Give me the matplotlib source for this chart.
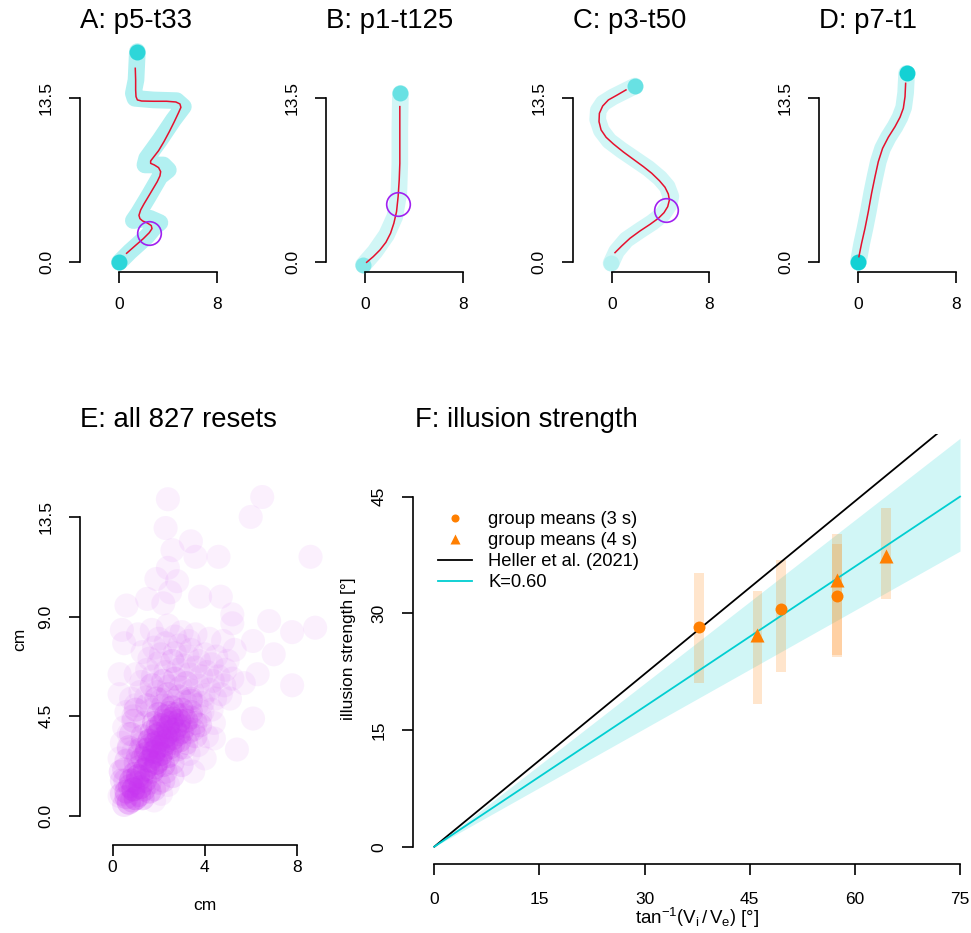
import matplotlib.pyplot as plt
from matplotlib.colors import to_rgba
from matplotlib.lines import Line2D

plt.rcParams['font.family'] = ['Liberation Sans', 'DejaVu Sans']
plt.rcParams['mathtext.fontset'] = 'custom'
plt.rcParams['mathtext.rm'] = 'Liberation Sans'
plt.rcParams['mathtext.it'] = 'Liberation Sans:italic'

# ---------------- data: single trials (cm) ----------------
titles = ['A: p5-t33', 'B: p1-t125', 'C: p3-t50', 'D: p7-t1']

a_raw_x = [0, 0.87, 2.24, 2.92, 3.33, 2.51, 1.15, 1.56, 2.38, 3.33, 4.02, 3.61,
           2.10, 2.24, 3.33, 4.43, 5.25, 4.70, 2.79, 1.28, 1.15, 1.37, 1.48]
a_raw_y = [0, 0.87, 2.10, 2.92, 3.25, 3.61, 3.42, 4.02, 5.38, 7.02, 7.57, 7.98,
           7.98, 8.52, 10.03, 11.67, 12.76, 13.25, 13.31, 13.44, 13.85, 14.95, 17.27]
a_fit_x = [0.60, 1.28, 1.97, 2.46, 2.68, 2.62, 2.30, 1.91, 1.69, 1.61, 1.75, 2.02,
           2.38, 2.79, 3.11, 3.33, 3.39, 3.22, 2.87, 2.57, 2.57, 2.84, 3.22, 3.66,
           4.10, 4.51, 4.86, 5.05, 4.97, 4.64, 3.88, 2.79, 1.83, 1.48, 1.37, 1.34,
           1.34, 1.31]
a_fit_y = [0.74, 1.34, 1.94, 2.43, 2.76, 3.01, 3.22, 3.39, 3.58, 3.85, 4.29, 4.78,
           5.38, 6.07, 6.61, 7.08, 7.43, 7.76, 7.98, 8.11, 8.31, 8.66, 9.15, 9.89,
           10.71, 11.53, 12.27, 12.70, 12.98, 13.14, 13.20, 13.20, 13.22, 13.31,
           13.58, 14.13, 14.95, 15.90]
a_reset = (2.46, 2.38)

b_raw_x = [-0.16, 0.79, 1.74, 2.42, 2.75, 2.83, 2.83, 2.88]
b_raw_y = [-0.22, 0.87, 2.24, 3.74, 5.66, 8.11, 10.85, 13.85]
b_fit_x = [0.11, 0.65, 1.20, 1.69, 2.07, 2.34, 2.56, 2.69, 2.78, 2.83, 2.83, 2.83]
b_fit_y = [0.00, 0.46, 1.01, 1.64, 2.38, 3.20, 4.15, 5.38, 6.75, 8.11, 10.03, 12.76]
b_reset = (2.67, 4.78)

c_raw_x = [-0.05, 0.40, 1.20, 2.30, 3.30, 4.20, 4.70, 4.85, 4.55, 3.95, 3.00, 1.90,
           0.80, -0.20, -0.85, -1.15, -1.10, -0.70, 0.10, 1.00, 1.91]
c_raw_y = [-0.08, 0.90, 1.85, 2.60, 3.25, 3.95, 4.70, 5.40, 6.20, 6.90, 7.70, 8.45,
           9.20, 9.95, 10.80, 11.70, 12.45, 13.05, 13.55, 14.00, 14.45]
c_fit_x = [0.27, 0.82, 1.50, 2.32, 3.14, 3.83, 4.29, 4.59, 4.73, 4.64, 4.37, 3.91,
           3.28, 2.60, 1.78, 0.96, 0.14, -0.46, -0.87, -1.04, -1.01, -0.74, -0.27,
           0.41, 1.17]
c_fit_y = [0.79, 1.34, 1.97, 2.57, 3.11, 3.61, 4.07, 4.56, 5.11, 5.60, 6.15, 6.69,
           7.30, 7.84, 8.44, 9.04, 9.70, 10.25, 10.85, 11.53, 12.21, 12.81, 13.31,
           13.69, 14.13]
c_reset = (4.43, 4.29)

d_raw_x = [0.0, 0.27, 0.55, 0.82, 1.09, 1.37, 1.64, 1.99, 2.46, 3.01, 3.42, 3.72,
           3.88, 3.96]
d_raw_y = [0.0, 1.50, 2.79, 4.15, 5.66, 7.02, 8.25, 9.34, 10.25, 11.12, 11.89,
           12.70, 13.90, 15.49]
d_fit_x = [0.05, 0.27, 0.55, 0.82, 1.09, 1.37, 1.64, 1.99, 2.46, 3.01, 3.42, 3.69,
           3.83, 3.88]
d_fit_y = [0.46, 1.56, 2.79, 4.15, 5.66, 7.02, 8.25, 9.34, 10.25, 11.12, 11.89,
           12.62, 13.58, 14.67]
d_reset = None

# ---------------- data: all resets (x, y in cm, w = weight of each spot) ----------------
# dense core and the band rising to the upper right
core_x = [0.7, 1.0, 1.3, 0.6, 0.9, 1.2, 0.8, 1.1, 1.4, 0.5, 1.6, 1.8, 2.1, 0.4, 0.5,
          1.4, 1.7, 1.6, 1.9, 2.2, 1.3, 1.5, 1.8, 2.1, 2.4, 1.6, 1.9, 2.2, 2.5, 2.8,
          1.7, 2.0, 2.3, 2.6, 2.9, 3.2, 1.8, 2.1, 2.4, 2.7, 3.0, 3.3, 2.0, 2.3, 2.6,
          2.9, 3.2, 3.6, 2.2, 2.6, 3.0, 3.4, 3.8, 1.0, 1.2, 1.3, 1.4, 0.9,
          0.85, 1.15, 0.75, 1.05, 1.35, 0.6, 0.95, 1.25, 0.55,
          1.55, 1.85, 2.05, 1.45, 1.75, 2.25, 1.65, 1.95, 2.35, 2.65, 1.85, 2.15,
          2.45, 2.85, 1.95, 2.25, 2.55, 2.85, 3.15, 2.45, 2.75, 3.05, 3.4,
          1.15, 1.1, 1.3, 3.5, 3.1, 2.6, 2.3, 2.0, 1.6,
          0.6, 0.7, 0.8, 0.9, 1.0, 3.6, 3.8, 3.9, 3.4, 0.4, 0.35]
core_y = [0.6, 0.8, 0.8, 1.1, 1.2, 1.3, 1.6, 1.8, 1.6, 0.5, 1.1, 0.7, 1.0, 1.6, 2.1,
          2.1, 2.0, 2.5, 2.4, 2.3, 2.6, 3.0, 2.9, 2.8, 2.7, 3.4, 3.3, 3.2, 3.1, 3.0,
          3.8, 3.7, 3.6, 3.5, 3.4, 3.3, 4.2, 4.1, 4.0, 3.9, 3.8, 3.8, 4.6, 4.5, 4.4,
          4.3, 4.3, 4.2, 5.0, 4.9, 4.8, 4.7, 4.5, 2.4, 3.0, 3.6, 4.2, 2.9,
          0.7, 0.95, 1.35, 1.5, 1.2, 0.85, 1.9, 1.75, 1.6,
          2.3, 2.2, 2.55, 2.8, 2.7, 3.0, 3.2, 3.1, 3.4, 3.3, 3.6, 3.5,
          3.8, 3.7, 4.0, 4.3, 4.2, 4.1, 4.05, 4.65, 4.6, 4.55, 4.45,
          2.2, 2.7, 3.3, 3.9, 3.1, 2.4, 2.0, 1.5, 1.5,
          2.5, 3.1, 3.7, 4.3, 4.8, 3.6, 4.1, 4.7, 5.2, 1.0, 2.0]
core_w = [4, 5, 3, 4, 6, 5, 4, 5, 4, 2, 3, 1, 1, 2, 2,
          5, 4, 5, 5, 3, 3, 4, 5, 5, 3, 4, 4, 4, 3, 2,
          3, 4, 4, 4, 3, 2, 3, 4, 4, 4, 3, 2, 3, 3, 4,
          4, 3, 2, 2, 3, 3, 2, 1, 2, 2, 2, 1, 1,
          3, 3, 3, 3, 3, 3, 3, 3, 2,
          3, 3, 3, 3, 3, 3, 3, 3, 3, 3, 3, 3,
          3, 3, 3, 3, 3, 3, 2, 3, 3, 2, 2,
          2, 2, 2, 2, 2, 2, 2, 2, 2,
          2, 2, 2, 2, 2, 2, 2, 1, 2, 2, 2]
# lighter haze above the core and scattered outliers (one reset each)
haze_x = [1.5, 1.9, 2.4, 2.9, 3.4, 3.9, 4.3, 1.2, 1.7, 2.2, 2.7, 3.2, 3.7, 4.2, 4.7,
          5.1, 1.0, 1.5, 2.0, 2.6, 3.1, 3.6, 4.1, 4.6, 5.2, 5.7, 1.3, 1.8, 2.3, 2.9,
          3.4, 4.0, 4.5, 5.0, 1.1, 1.7, 2.4, 3.0, 3.6, 4.2, 4.8,
          2.6, 3.0, 3.3, 3.7, 4.1, 2.4, 3.5, 4.4, 4.0, 1.8, 2.2, 0.3, 0.4, 0.5, 0.6,
          0.8, 0.3,
          1.7, 2.15, 2.65, 3.15, 3.65, 1.45, 1.95, 2.45, 2.95, 3.45, 3.95, 4.45, 1.25,
          1.75, 2.3, 2.85, 3.35, 3.85, 4.35, 4.85, 1.6, 2.1, 2.7, 3.25, 3.75, 4.3,
          4.9, 2.0, 2.7, 3.3, 0.9, 1.0, 0.7, 0.7,
          2.4, 6.5, 6.0, 2.3, 3.4, 2.6, 3.6, 4.6, 8.6, 2.4, 1.9, 2.8, 2.5, 0.6, 1.5,
          2.2, 3.8, 4.7, 5.2, 5.2, 6.8, 7.8, 8.8, 0.4, 0.5, 6.1, 7.0, 5.3, 6.3, 7.8,
          6.1, 0.3, 0.3, 5.4, 4.4]
haze_y = [5.0, 5.3, 5.5, 5.4, 5.3, 5.1, 4.8, 5.6, 5.9, 6.1, 6.2, 6.0, 5.9, 5.7, 5.5,
          5.3, 6.4, 6.6, 6.9, 7.0, 6.8, 6.7, 6.5, 6.3, 6.2, 6.0, 7.4, 7.6, 7.8, 7.7,
          7.5, 7.3, 7.2, 7.0, 8.2, 8.4, 8.6, 8.3, 8.2, 8.0, 7.9,
          1.8, 2.3, 2.8, 3.2, 3.6, 1.4, 2.0, 4.2, 2.6, 1.2, 1.6, 2.6, 3.3, 4.0, 4.7,
          5.3, 0.9,
          4.8, 5.25, 5.2, 5.15, 5.0, 5.35, 5.6, 5.85, 5.8, 5.65, 5.45, 5.3, 6.05,
          6.3, 6.5, 6.6, 6.4, 6.3, 6.1, 5.9, 7.1, 7.3, 7.35, 7.2, 7.0, 6.85,
          6.6, 8.0, 8.1, 7.9, 4.5, 5.0, 3.7, 3.0,
          14.3, 14.4, 13.5, 13.0, 12.4, 12.0, 11.7, 11.7, 11.7, 11.2, 10.7, 10.6, 10.1,
          9.5, 9.8, 9.6, 9.9, 9.9, 9.1, 8.7, 8.8, 8.3, 8.5, 8.4, 7.8, 7.9, 7.3, 7.5,
          6.4, 5.9, 4.4, 6.4, 5.5, 3.0, 3.5]
haze_w = [2, 2, 2, 2, 2, 1, 1, 1, 2, 2, 2, 2, 1, 1, 1,
          1, 1, 1, 1, 2, 1, 1, 1, 1, 1, 1, 1, 1, 1, 1,
          1, 1, 1, 1, 1, 1, 1, 1, 1, 1, 1,
          2, 2, 1, 1, 1, 1, 1, 1, 1, 2, 2, 1, 1, 1, 1,
          1, 1,
          1, 1, 1, 1, 1, 1, 1, 1, 1, 1, 1, 1, 1,
          1, 1, 1, 1, 1, 1, 1, 1, 1, 1, 1, 1, 1,
          1, 1, 1, 1, 1, 1, 1, 1,
          1, 1, 1, 1, 1, 1, 1, 1, 1, 1, 1, 1, 1, 1, 1,
          1, 1, 1, 1, 1, 1, 1, 1, 1, 1, 1, 1, 1, 1, 1,
          1, 1, 1, 1, 1]

# ---------------- data: illusion strength (deg) ----------------
g3_x = [37.8, 49.4, 57.4]
g3_y = [28.2, 30.5, 32.2]
g3_lo = [21.1, 22.5, 24.4]
g3_hi = [35.2, 36.9, 38.9]
g4_x = [46.1, 57.4, 64.4]
g4_y = [27.2, 34.3, 37.4]
g4_lo = [18.3, 24.7, 31.8]
g4_hi = [32.9, 40.2, 43.5]
line_x = [0, 75]
heller_y = [0, 55.5]
fit_y = [0, 45.0]
band_lo = [0, 38.0]
band_hi = [0, 52.5]

CYAN = '#00CED1'
RED = '#e6112e'
PURPLE = '#a020f0'
ORCHID = '#c832f0'
ORANGE = '#ff7f00'
TITLE_FS = 19.8
TICK_FS = 12.5

W, H = 971, 933
fig = plt.figure(figsize=(W / 100, H / 100), dpi=100)


def px_axes(left, top, right, bottom):
    ax = fig.add_axes([left / W, 1 - bottom / H, (right - left) / W, (bottom - top) / H])
    ax.patch.set_visible(False)
    return ax


def px_text(x, y, s, **kw):
    fig.text(x / W, 1 - y / H, s, **kw)


def style_axes(ax, xt, yt, xl, yl, xpad, ypad):
    ax.spines['top'].set_visible(False)
    ax.spines['right'].set_visible(False)
    for s in ['left', 'bottom']:
        ax.spines[s].set_linewidth(1.2)
    ax.spines['left'].set_bounds(yt[0], yt[-1])
    ax.spines['bottom'].set_bounds(xt[0], xt[-1])
    ax.set_xticks(xt, xl)
    ax.set_yticks(yt, yl)
    ax.tick_params(length=8, width=1.2, labelsize=TICK_FS, direction='out')
    ax.tick_params(axis='x', pad=xpad)
    ax.tick_params(axis='y', pad=ypad)
    plt.setp(ax.get_yticklabels(), rotation=90, va='center')


# ---------------- panels A-D ----------------
trials = [(a_raw_x, a_raw_y, a_fit_x, a_fit_y, a_reset),
          (b_raw_x, b_raw_y, b_fit_x, b_fit_y, b_reset),
          (c_raw_x, c_raw_y, c_fit_x, c_fit_y, c_reset),
          (d_raw_x, d_raw_y, d_fit_x, d_fit_y, d_reset)]
origin_px = [119.3, 365.3, 611.7, 858.3]
band_alpha = [0.3, 0.18, 0.18, 0.22]
start_alpha = [0.75, 0.35, 0.12, 0.9]
end_alpha = [0.75, 0.5, 0.5, 0.9]
S = 12.2  # px per cm

for i, (rx, ry, fx, fy, reset) in enumerate(trials):
    ox = origin_px[i]
    ax = px_axes(ox - 39, 40, ox + 110, 272.3)
    ax.set_xlim(-39 / S, 110 / S)
    ax.set_ylim(-10 / S, (262.3 - 40) / S)
    ax.plot(rx, ry, color=CYAN, alpha=band_alpha[i], lw=12,
            solid_capstyle='round', solid_joinstyle='round', clip_on=False)
    ax.plot(rx[0], ry[0], 'o', ms=11.5, color=CYAN, mec='none',
            alpha=start_alpha[i], clip_on=False)
    ax.plot(rx[-1], ry[-1], 'o', ms=11.5, color=CYAN, mec='none',
            alpha=end_alpha[i], clip_on=False)
    ax.plot(fx, fy, color=RED, lw=1.1, solid_joinstyle='round', clip_on=False)
    if reset is not None:
        ax.plot(reset[0], reset[1], 'o', mfc='none', mec=PURPLE, ms=17, mew=1.2)
    style_axes(ax, [0, 8], [0, 13.5], ['0', '8'], ['0.0', '13.5'], 10, 11)
    px_text(ox - 39, 28, titles[i], fontsize=TITLE_FS, ha='left', va='baseline')

# ---------------- panel E ----------------
ax = px_axes(80, 431, 329.4, 845)
ax.set_xlim(-1.42, 9.42)
ax.set_ylim(-1.31, 17.38)
e_x = haze_x + core_x
e_y = haze_y + core_y
e_w = haze_w + core_w
cols = [to_rgba(ORCHID, 1 - (1 - 0.07) ** w) for w in e_w]
ax.scatter(e_x, e_y, s=300, c=cols, edgecolors='none')
style_axes(ax, [0, 4, 8], [0, 4.5, 9, 13.5], ['0', '4', '8'],
           ['0.0', '4.5', '9.0', '13.5'], 3, 11)
px_text(80, 427, 'E: all 827 resets', fontsize=TITLE_FS, ha='left', va='baseline')
px_text(204.7, 905, 'cm', fontsize=TICK_FS, ha='center', va='center')
px_text(20, 639, 'cm', fontsize=TICK_FS, ha='center', va='center', rotation=90)

# ---------------- panel F ----------------
ax = px_axes(412.7, 434, 962, 864)
ax.set_xlim((412.7 - 434.3) / 7.01, (962 - 434.3) / 7.01)
ax.set_ylim((846.7 - 864) / 7.78, (846.7 - 434) / 7.78)
ax.fill_between(line_x, band_lo, band_hi, color=CYAN, alpha=0.18, lw=0)
ax.plot(line_x, heller_y, color='black', lw=1.3)
ax.plot(line_x, fit_y, color=CYAN, lw=1.3)
ax.bar(g3_x, [h - l for h, l in zip(g3_hi, g3_lo)], bottom=g3_lo, width=1.4,
       color=ORANGE, alpha=0.2, lw=0)
ax.bar(g4_x, [h - l for h, l in zip(g4_hi, g4_lo)], bottom=g4_lo, width=1.4,
       color=ORANGE, alpha=0.2, lw=0)
ax.plot(g3_x, g3_y, 'o', color=ORANGE, ms=8.6, mec='none')
ax.plot(g4_x, g4_y, '^', color=ORANGE, ms=10.5, mec='none')
style_axes(ax, [0, 15, 30, 45, 60, 75], [0, 15, 30, 45],
           ['0', '15', '30', '45', '60', '75'], ['0', '15', '30', '45'], 12, 11)
px_text(415, 427, 'F: illusion strength', fontsize=TITLE_FS, ha='left', va='baseline')
px_text(348, 649, 'illusion strength [°]', fontsize=TICK_FS, ha='center',
        va='center', rotation=90)
px_text(697, 918,
        r'$\mathrm{tan}^{-1}\left(\mathrm{V}_{\mathrm{i}}\,/\,\mathrm{V}_{\mathrm{e}}\right)$ [°]',
        fontsize=13.5, ha='center', va='center')

handles = [Line2D([], [], marker='o', ls='none', color=ORANGE, ms=5.8, mec='none'),
           Line2D([], [], marker='^', ls='none', color=ORANGE, ms=7.5, mec='none'),
           Line2D([], [], color='black', lw=1.3),
           Line2D([], [], color=CYAN, lw=1.3)]
labels = ['group means (3 s)', 'group means (4 s)', 'Heller et al. (2021)', 'K=0.60']
ax.legend(handles, labels, loc='upper left', bbox_to_anchor=(438 / W, 1 - 511 / H),
          bbox_transform=fig.transFigure, frameon=False, fontsize=13.2,
          handlelength=1.86, handletextpad=0.87, labelspacing=0.22,
          borderpad=0, borderaxespad=0)

fig.savefig('out.png', dpi=100)
